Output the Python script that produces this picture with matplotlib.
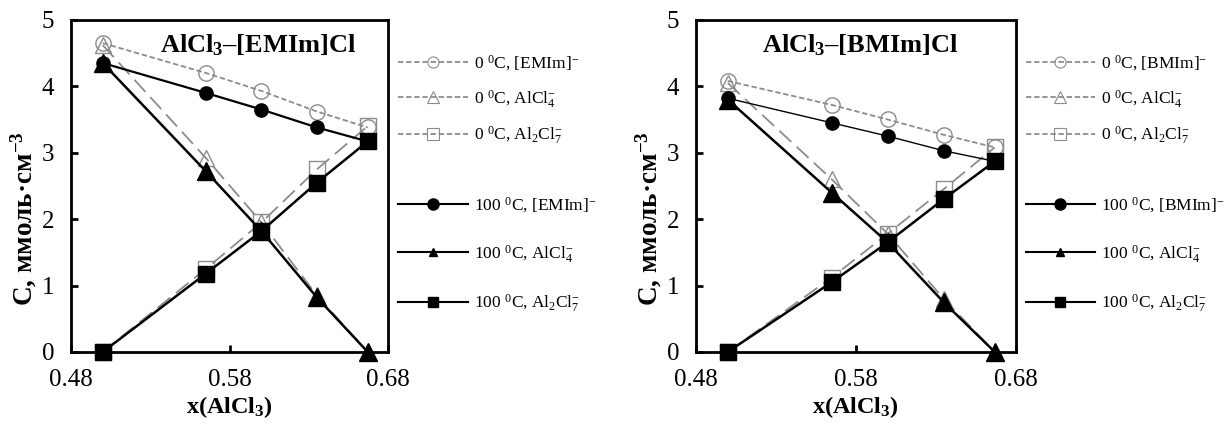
import numpy as np
import matplotlib
matplotlib.use("Agg")
import matplotlib.pyplot as plt
from matplotlib.lines import Line2D

plt.rcParams['font.family'] = ['Liberation Serif', 'DejaVu Serif']
plt.rcParams['mathtext.fontset'] = 'custom'
plt.rcParams['mathtext.rm'] = 'Liberation Serif'
plt.rcParams['mathtext.it'] = 'Liberation Serif:italic'
plt.rcParams['mathtext.bf'] = 'Liberation Serif:bold'

# Мольная доля AlCl3
x_frac = [0.50, 0.565, 0.60, 0.635, 0.667]

# AlCl3-[EMIm]Cl
emim_0_cat = [4.65, 4.20, 3.93, 3.62, 3.38]
emim_0_alcl4 = [4.62, 2.92, 1.95, 0.85, 0.0]
emim_0_al2cl7 = [0.0, 1.25, 1.95, 2.75, 3.40]
emim_100_cat = [4.35, 3.90, 3.65, 3.38, 3.17]
emim_100_alcl4 = [4.35, 2.72, 1.82, 0.82, 0.0]
emim_100_al2cl7 = [0.0, 1.18, 1.82, 2.55, 3.17]

# AlCl3-[BMIm]Cl
bmim_0_cat = [4.08, 3.72, 3.50, 3.27, 3.08]
bmim_0_alcl4 = [4.05, 2.60, 1.78, 0.80, 0.0]
bmim_0_al2cl7 = [0.0, 1.12, 1.78, 2.45, 3.08]
bmim_100_cat = [3.82, 3.45, 3.25, 3.03, 2.87]
bmim_100_alcl4 = [3.80, 2.40, 1.65, 0.75, 0.0]
bmim_100_al2cl7 = [0.0, 1.05, 1.65, 2.30, 2.87]

x_ticks = [0.48, 0.58, 0.68]
y_ticks = [0, 1, 2, 3, 4, 5]

gray = '#8c8c8c'


def draw_panel(ax, cation, d0, d100, title, title_x, cat_lw):
    # 0 градусов - серые пунктирные линии, пустые маркеры
    ax.plot(x_frac, d0[0], color=gray, ls=(0, (3, 1.5)), lw=1.3, marker='o',
            ms=11, mfc='none', mec=gray, mew=1.0, clip_on=False, zorder=2)
    ax.plot(x_frac, d0[1], color=gray, ls=(0, (9, 4)), lw=1.3, marker='^',
            ms=11, mfc='none', mec=gray, mew=1.0, clip_on=False, zorder=2)
    ax.plot(x_frac, d0[2], color=gray, ls=(0, (9, 4)), lw=1.3, marker='s',
            ms=12, mfc='none', mec=gray, mew=1.0, clip_on=False, zorder=2)
    # 100 градусов - черные сплошные
    ax.plot(x_frac, d100[0], color='black', lw=cat_lw, marker='o', ms=9.5,
            clip_on=False, zorder=3)
    ax.plot(x_frac, d100[1], color='black', lw=1.8, marker='^', ms=13,
            clip_on=False, zorder=3)
    ax.plot(x_frac, d100[2], color='black', lw=1.8, marker='s', ms=12,
            clip_on=False, zorder=3)

    ax.set_xlim(0.48, 0.68)
    ax.set_ylim(0, 5)
    ax.set_xticks(x_ticks)
    ax.set_xticklabels([f'{t:.2f}' for t in x_ticks])
    ax.set_yticks(y_ticks)
    ax.tick_params(direction='in', length=5, width=2, labelsize=18)
    ax.tick_params(axis='x', pad=12)
    ax.tick_params(axis='y', pad=12)
    for sp in ax.spines.values():
        sp.set_linewidth(2)
    ax.set_xlabel(r'x(AlCl$_{\mathbf{3}}$)', fontsize=17.5, fontweight='bold')
    ax.xaxis.set_label_coords(0.5, -0.128)
    ax.set_ylabel(r'C, ммоль·см$^{\mathbf{-3}}$', fontsize=19.5,
                  fontweight='bold')
    ax.yaxis.set_label_coords(-0.1, 0.40)
    ax.text(title_x, 0.925, title, transform=ax.transAxes, ha='center',
            va='center', fontsize=19, fontweight='bold')

    h0 = [Line2D([], [], color=gray, ls=(0, (3, 1.5)), lw=1.3, marker=m,
                 ms=8, mfc='none', mec=gray, mew=0.8) for m in ['o', '^', 's']]
    lab0 = [r'0 $^{0}$C, [' + cation + r']$^{-}$',
            r'0 $^{0}$C, AlCl$_{4}^{-}$',
            r'0 $^{0}$C, Al$_{2}$Cl$_{7}^{-}$']
    h100 = [Line2D([], [], color='black', lw=1.5, marker=m, ms=s)
            for m, s in [('o', 8), ('^', 6), ('s', 7)]]
    lab100 = [r'100 $^{0}$C, [' + cation + r']$^{-}$',
              r'100 $^{0}$C, AlCl$_{4}^{-}$',
              r'100 $^{0}$C, Al$_{2}$Cl$_{7}^{-}$']

    leg1 = ax.legend(h0, lab0, loc='upper left', bbox_to_anchor=(1.032, 0.90),
                     frameon=False, fontsize=12.5, handlelength=4.0,
                     handletextpad=0.35, labelspacing=0.86,
                     borderaxespad=0, borderpad=0)
    ax.add_artist(leg1)
    ax.legend(h100, lab100, loc='upper left', bbox_to_anchor=(1.032, 0.472),
              frameon=False, fontsize=12.5, handlelength=4.0,
              handletextpad=0.35, labelspacing=1.6,
              borderaxespad=0, borderpad=0)


fig = plt.figure(figsize=(12.25, 4.23), dpi=100)
ax1 = fig.add_axes([0.058, 0.168, 0.259, 0.785])
ax2 = fig.add_axes([0.568, 0.168, 0.261, 0.785])

draw_panel(ax1, 'EMIm',
           [emim_0_cat, emim_0_alcl4, emim_0_al2cl7],
           [emim_100_cat, emim_100_alcl4, emim_100_al2cl7],
           r'AlCl$_{\mathbf{3}}$–[EMIm]Cl', 0.59, 1.6)
draw_panel(ax2, 'BMIm',
           [bmim_0_cat, bmim_0_alcl4, bmim_0_al2cl7],
           [bmim_100_cat, bmim_100_alcl4, bmim_100_al2cl7],
           r'AlCl$_{\mathbf{3}}$–[BMIm]Cl', 0.515, 1.0)

fig.savefig('out.png', dpi=100)
